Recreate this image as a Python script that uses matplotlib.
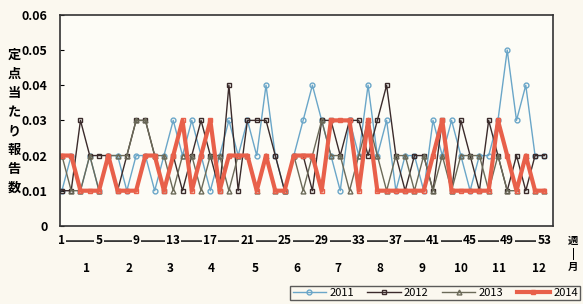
import matplotlib
matplotlib.use('Agg')
import matplotlib.pyplot as plt

plt.rcParams['font.family'] = ['Noto Sans CJK JP', 'DejaVu Sans']

weeks = list(range(1, 54))

# values (reports per sentinel site)
y2011 = [0.01, 0.02, 0.01, 0.02, 0.01, 0.02, 0.02, 0.01, 0.02, 0.02,
         0.01, 0.02, 0.03, 0.02, 0.03, 0.02, 0.01, 0.02, 0.03, 0.02,
         0.03, 0.02, 0.04, 0.02, 0.01, 0.02, 0.03, 0.04, 0.03, 0.02,
         0.01, 0.03, 0.02, 0.04, 0.02, 0.03, 0.01, 0.02, 0.02, 0.01,
         0.03, 0.02, 0.03, 0.02, 0.01, 0.02, 0.02, 0.03, 0.05, 0.03,
         0.04, 0.02, 0.02]
y2012 = [0.01, 0.01, 0.03, 0.02, 0.02, 0.02, 0.01, 0.02, 0.03, 0.03,
         0.02, 0.01, 0.02, 0.01, 0.02, 0.03, 0.02, 0.01, 0.04, 0.01,
         0.03, 0.03, 0.03, 0.02, 0.01, 0.02, 0.02, 0.01, 0.03, 0.03,
         0.02, 0.03, 0.03, 0.02, 0.03, 0.04, 0.02, 0.01, 0.02, 0.02,
         0.01, 0.03, 0.01, 0.03, 0.02, 0.01, 0.03, 0.02, 0.01, 0.02,
         0.01, 0.02, 0.02]
y2013 = [0.02, 0.01, 0.01, 0.02, 0.01, 0.02, 0.02, 0.02, 0.03, 0.03,
         0.02, 0.02, 0.01, 0.02, 0.02, 0.01, 0.02, 0.02, 0.01, 0.02,
         0.02, 0.01, 0.02, 0.01, 0.01, 0.02, 0.01, 0.02, 0.03, 0.02,
         0.02, 0.01, 0.02, 0.03, 0.02, 0.01, 0.02, 0.02, 0.01, 0.02,
         0.01, 0.02, 0.01, 0.02, 0.02, 0.02, 0.01, 0.02, 0.01, 0.01,
         0.02, 0.01, 0.01]
y2014 = [0.02, 0.02, 0.01, 0.01, 0.01, 0.02, 0.01, 0.01, 0.01, 0.02,
         0.02, 0.01, 0.02, 0.03, 0.01, 0.02, 0.03, 0.01, 0.02, 0.02,
         0.02, 0.01, 0.02, 0.01, 0.01, 0.02, 0.02, 0.02, 0.01, 0.03,
         0.03, 0.03, 0.01, 0.03, 0.01, 0.01, 0.01, 0.01, 0.01, 0.01,
         0.02, 0.03, 0.01, 0.01, 0.01, 0.01, 0.01, 0.03, 0.02, 0.01,
         0.02, 0.01, 0.01]

week_ticks = [1, 5, 9, 13, 17, 21, 25, 29, 33, 37, 41, 45, 49, 53]
month_labels = ['1', '2', '3', '4', '5', '6', '7', '8', '9', '10', '11', '12']
month_pos = [3.7, 8.2, 12.7, 17.1, 21.8, 26.3, 30.8, 35.3, 39.8, 44.0, 48.1, 52.4]
yticks = [0, 0.01, 0.02, 0.03, 0.04, 0.05, 0.06]
ytick_labels = ['0', '0.01', '0.02', '0.03', '0.04', '0.05', '0.06']

bg = '#fbf8ef'
fig = plt.figure(figsize=(5.83, 3.04), dpi=100, facecolor=bg)
ax = fig.add_axes([0.103, 0.257, 0.845, 0.694], facecolor='#fdfcf6')

ax.plot(weeks, y2011, color='#6aa6c8', lw=1, marker='o', ms=3.5,
        mfc='none', mew=1, label='2011')
ax.plot(weeks, y2012, color='#3b2b2b', lw=1, marker='s', ms=3.5,
        mfc='none', mew=1, label='2012')
ax.plot(weeks, y2013, color='#6b6a58', lw=1, marker='^', ms=3.5,
        mfc='none', mew=1, label='2013')
ax.plot(weeks, y2014, color='#e8604a', lw=3, marker='s', ms=2.5,
        mfc='none', mec='#e8604a', label='2014')

ax.set_xlim(0.8, 53.9)
ax.set_ylim(0, 0.06)
ax.set_yticks(yticks)
ax.set_yticklabels(ytick_labels, fontsize=9, fontweight='bold')
ax.tick_params(axis='y', direction='in', length=3, pad=9)
ax.set_xticks(week_ticks)
ax.set_xticklabels([str(w) for w in week_ticks], fontsize=8.5, fontweight='bold')
ax.tick_params(axis='x', length=0, pad=6)
for lbl in ax.get_xticklabels():
    lbl.set_bbox(dict(facecolor=bg, edgecolor='none', pad=0.8))
    lbl.set_zorder(5)
for s in ax.spines.values():
    s.set_color('#333333')
    s.set_linewidth(1.2)

# line joining the week labels
ax.annotate('', xy=(week_ticks[-1], -0.072), xytext=(week_ticks[0], -0.072),
            xycoords=('data', 'axes fraction'), textcoords=('data', 'axes fraction'),
            arrowprops=dict(arrowstyle='-', color='#222222', lw=1.2,
                            shrinkA=0, shrinkB=0),
            annotation_clip=False, zorder=1)

for m, p in zip(month_labels, month_pos):
    ax.text(p, -0.2, m, transform=ax.get_xaxis_transform(), ha='center', va='center',
            fontsize=8.5, fontweight='bold')

fig.text(0.983, 0.165, '週\n|\n月', ha='center', va='center', fontsize=7.5,
         fontweight='bold', linespacing=1.25)
fig.text(0.024, 0.6, '\n'.join('定点当たり報告数'), ha='center', va='center',
         fontsize=9.5, fontweight='bold', linespacing=1.45)

fig.legend(loc='lower right', bbox_to_anchor=(1.005, -0.005), ncol=4, fontsize=8,
           frameon=True, fancybox=False, edgecolor='#333333', handlelength=3,
           columnspacing=1.2, handletextpad=0.3, borderpad=0.2,
           facecolor=bg)

fig.savefig('out.png', dpi=100, facecolor=bg)
